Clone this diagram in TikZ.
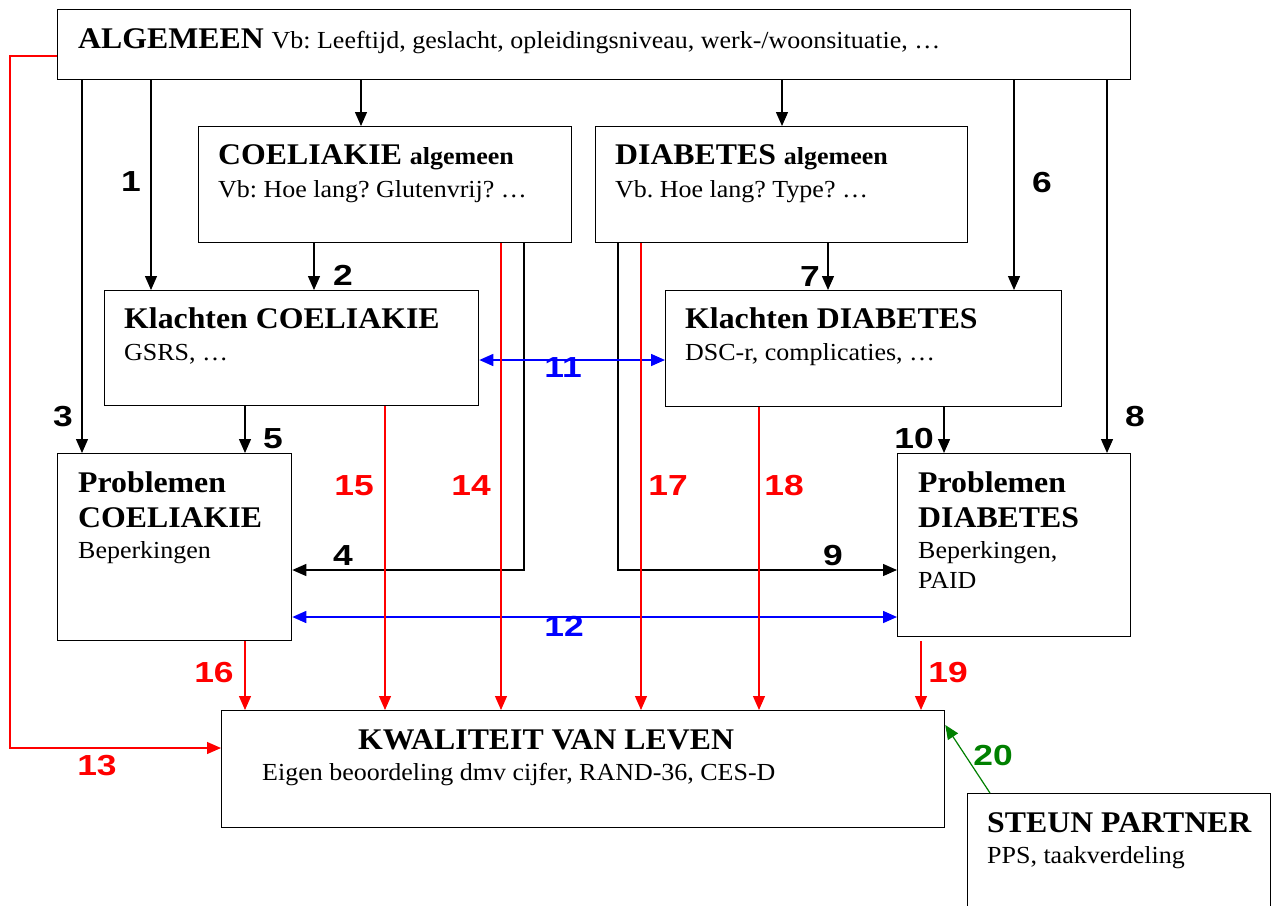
\documentclass[tikz,border=0pt]{standalone}
\usepackage{fontspec}
\setmainfont[FakeStretch=1.06]{Liberation Serif}
\newfontfamily\labfont[FakeStretch=1.22]{Liberation Sans}
\usetikzlibrary{arrows.meta}
\definecolor{lred}{RGB}{255,0,0}
\definecolor{lblue}{RGB}{0,0,255}
\definecolor{lgreen}{RGB}{0,128,0}
\frenchspacing
\begin{document}
\begin{tikzpicture}[x=1pt,y=-1pt,
  box/.style={draw, line width=1.3pt, inner sep=0pt, anchor=north west},
  txt/.style={anchor=base west, inner sep=0pt, font=\fontsize{24.5}{28}\selectfont},
  ttl/.style={anchor=base west, inner sep=0pt, font=\fontsize{30}{33}\selectfont\bfseries},
  num/.style={inner sep=0pt, font=\fontsize{29}{32}\selectfont\labfont\bfseries},
  tip/.tip={Triangle[length=14pt,width=12pt]},
  blk/.style={line width=1.3pt, -tip},
  redarr/.style={lred, line width=1.2pt, -tip},
  bluearr/.style={lblue, line width=1.6pt, tip-tip},
  grnarr/.style={lgreen, line width=1.2pt, -tip}]
\useasboundingbox (0,0) rectangle (1273,905);
\fill[white] (0,0) rectangle (1273,905);

% boxes
\node[box, minimum width=1073pt, minimum height=70pt] (alg) at (57,9) {};
\node[box, minimum width=373pt, minimum height=116pt] (coelalg) at (198,126) {};
\node[box, minimum width=372pt, minimum height=116pt] (diabalg) at (595,126) {};
\node[box, minimum width=374pt, minimum height=115pt] (klcoel) at (104,290) {};
\node[box, minimum width=396pt, minimum height=116pt] (kldiab) at (665,290) {};
\node[box, minimum width=234pt, minimum height=187pt] (prcoel) at (57,453) {};
\node[box, minimum width=233pt, minimum height=183pt] (prdiab) at (897,453) {};
\node[box, minimum width=723pt, minimum height=117pt] (kwal) at (221,710) {};
\node[box, minimum width=303pt, minimum height=125pt] (steun) at (967,793) {};

% texts
\node[ttl] (tAlg) at (78,48) {ALGEMEEN {\mdseries\fontsize{24.5}{28}\selectfont Vb: Leeftijd, geslacht, opleidingsniveau, werk-/woonsituatie, …}};
\node[ttl] (tCoelA) at (218,164) {COELIAKIE {\fontsize{24.5}{28}\selectfont algemeen}};
\node[txt] (sCoelA) at (218,197) {Vb: Hoe lang? Glutenvrij? …};
\node[ttl] (tDiabA) at (615,164) {DIABETES {\fontsize{24.5}{28}\selectfont algemeen}};
\node[txt] (sDiabA) at (615,197) {Vb. Hoe lang? Type? …};
\node[ttl] (tKlC) at (124,328) {Klachten COELIAKIE};
\node[txt] (sKlC) at (124,360) {GSRS, …};
\node[ttl] (tKlD) at (685,328) {Klachten DIABETES};
\node[txt] (sKlD) at (685,360) {DSC-r, complicaties, …};
\node[ttl] (tPrC1) at (78,492) {Problemen};
\node[ttl] (tPrC2) at (78,527) {COELIAKIE};
\node[txt] (sPrC) at (78,558) {Beperkingen};
\node[ttl] (tPrD1) at (918,492) {Problemen};
\node[ttl] (tPrD2) at (918,527) {DIABETES};
\node[txt] (sPrD1) at (918,558) {Beperkingen,};
\node[txt] (sPrD2) at (918,588) {PAID};
\node[ttl] (tKw) at (358,749) {KWALITEIT VAN LEVEN};
\node[txt] (sKw) at (262,780) {Eigen beoordeling dmv cijfer, RAND-36, CES-D};
\node[ttl] (tSt) at (987,832) {STEUN PARTNER};
\node[txt] (sSt) at (987,863) {PPS, taakverdeling};

% black connectors
\draw[blk] (151,0 |- alg.south) -- (151,0 |- klcoel.north);
\draw[blk] (82,0 |- alg.south) -- (82,0 |- prcoel.north);
\draw[blk] (361,0 |- alg.south) -- (361,0 |- coelalg.north);
\draw[blk] (782,0 |- alg.south) -- (782,0 |- diabalg.north);
\draw[blk] (1014,0 |- alg.south) -- (1014,0 |- kldiab.north);
\draw[blk] (1107,0 |- alg.south) -- (1107,0 |- prdiab.north);
\draw[blk] (314,0 |- coelalg.south) -- (314,0 |- klcoel.north);
\draw[blk] (828,0 |- diabalg.south) -- (828,0 |- kldiab.north);
\draw[blk] (245,0 |- klcoel.south) -- (245,0 |- prcoel.north);
\draw[blk] (944,0 |- kldiab.south) -- (944,0 |- prdiab.north);
\draw[blk] (524,0 |- coelalg.south) |- (prcoel.east |- 0,570);
\draw[blk] (618,0 |- diabalg.south) |- (prdiab.west |- 0,570);

% blue connectors
\draw[bluearr] (klcoel.east |- 0,360) -- (kldiab.west |- 0,360);
\draw[bluearr] (prcoel.east |- 0,617) -- (prdiab.west |- 0,617);

% red connectors
\coordinate (c13) at (10,748);
\draw[redarr] (alg.west |- 0,56) -| (c13) -- (kwal.west |- 0,748);
\draw[redarr] (501,0 |- coelalg.south) -- (501,0 |- kwal.north);
\draw[redarr] (385,0 |- klcoel.south) -- (385,0 |- kwal.north);
\draw[redarr] (245,0 |- prcoel.south) -- (245,0 |- kwal.north);
\draw[redarr] (641,0 |- diabalg.south) -- (641,0 |- kwal.north);
\draw[redarr] (759,0 |- kldiab.south) -- (759,0 |- kwal.north);
\draw[redarr, shorten <=4pt] (921,0 |- prdiab.south) -- (921,0 |- kwal.north);

% green connector
\draw[grnarr] (990,0 |- steun.north) -- (kwal.east |- 0,725);

% labels
\node[num] (l1) at (131,182) {1};
\node[num] (l2) at (343,275) {2};
\node[num] (l3) at (63,417) {3};
\node[num] (l4) at (343,556) {4};
\node[num] (l5) at (273,439) {5};
\node[num] (l6) at (1042,183) {6};
\node[num] (l7) at (810,277) {7};
\node[num] (l8) at (1135,417) {8};
\node[num] (l9) at (833,556) {9};
\node[num] (l10) at (914,439) {10};
\node[num, lblue] (l11) at (563,368) {11};
\node[num, lblue] (l12) at (564,626) {12};
\node[num, lred] (l13) at (97,766) {13};
\node[num, lred] (l14) at (471,486) {14};
\node[num, lred] (l15) at (354,486) {15};
\node[num, lred] (l16) at (214,673) {16};
\node[num, lred] (l17) at (668,486) {17};
\node[num, lred] (l18) at (784,486) {18};
\node[num, lred] (l19) at (948,673) {19};
\node[num, lgreen] (l20) at (993,756) {20};
\end{tikzpicture}
\end{document}
